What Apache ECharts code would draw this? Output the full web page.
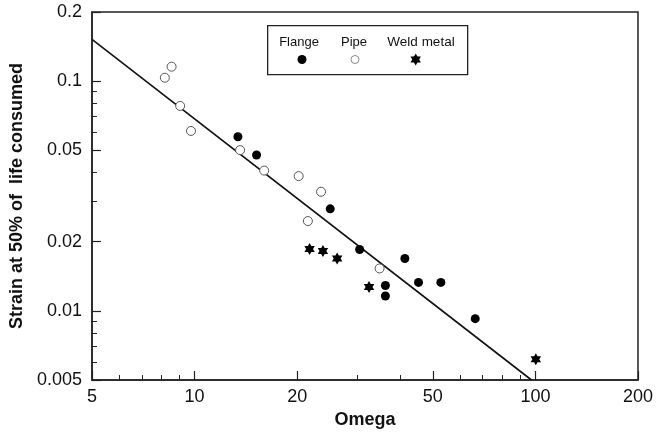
<!DOCTYPE html>
<html>
<head>
<meta charset="utf-8">
<script src="https://cdn.jsdelivr.net/npm/echarts@6/dist/echarts.min.js"></script>
<style>
html,body{margin:0;padding:0;background:#fff;}
#chart{width:656px;height:434px;}
</style>
</head>
<body>
<div id="chart"></div>
<script>
// ---- data ----
const flangeOmega = [13.4, 15.2, 25.0, 30.5, 41.4, 36.3, 36.3, 45.4, 52.8, 66.6];
const flangeStrain = [0.0573, 0.0477, 0.0278, 0.0185, 0.0169, 0.0129, 0.0116, 0.0133, 0.0133, 0.00925];
const pipeOmega = [8.18, 8.56, 9.07, 9.76, 13.6, 16.0, 20.2, 23.5, 21.5, 34.9];
const pipeStrain = [0.1035, 0.1156, 0.078, 0.0607, 0.0501, 0.0408, 0.0386, 0.033, 0.0246, 0.0153];
const weldOmega = [21.75, 23.8, 26.2, 32.5, 100.3];
const weldStrain = [0.0186, 0.0182, 0.0169, 0.0127, 0.00615];
const fitOmega = [5, 97.4];
const fitStrain = [0.152, 0.005];

const xMajorTicks = [5, 10, 20, 50, 100, 200];
const xMinorTicks = [6, 7, 8, 9, 30, 40, 60, 70, 80, 90];
const yMajorTicks = [0.005, 0.01, 0.02, 0.05, 0.1, 0.2];
const yMinorTicks = [0.006, 0.007, 0.008, 0.009, 0.03, 0.04, 0.06, 0.07, 0.08, 0.09];

const legendNames = ['Flange', 'Pipe', 'Weld metal'];

const zip = (a, b) => a.map((v, i) => [v, b[i]]);
const FONT = 'Liberation Sans, Arial, sans-serif';
const starPath = 'path://M0,-10 L8.66,5 L-8.66,5 Z M0,10 L-8.66,-5 L8.66,-5 Z';

const chart = echarts.init(document.getElementById('chart'), null, {renderer: 'canvas'});

const baseX = {
  type: 'log', logBase: 10, min: 5, max: 200, gridIndex: 0,
  splitLine: {show: false}, minorTick: {show: false}, minorSplitLine: {show: false}
};
const baseY = {
  type: 'log', logBase: 10, min: 0.005, max: 0.2, gridIndex: 0,
  splitLine: {show: false}, minorTick: {show: false}, minorSplitLine: {show: false}
};

const option = {
  backgroundColor: '#fff',
  animation: false,
  grid: {left: 91, top: 12, width: 550, height: 368, show: true,
         borderColor: '#222', borderWidth: 1.5, backgroundColor: 'transparent'},
  xAxis: [
    Object.assign({}, baseX, {
      position: 'bottom',
      name: 'Omega', nameLocation: 'middle', nameGap: 28,
      nameTextStyle: {fontFamily: FONT, fontSize: 18, fontWeight: 'bold', color: '#111'},
      axisLine: {show: true, lineStyle: {color: '#222', width: 1.5}},
      axisTick: {show: true, inside: true, length: 9, customValues: xMajorTicks, lineStyle: {color: '#222', width: 1.2}},
      axisLabel: {show: true, customValues: xMajorTicks, margin: 8, fontFamily: FONT, fontSize: 18, color: '#111',
                  formatter: v => String(+v.toPrecision(6))}
    }),
    Object.assign({}, baseX, {
      position: 'bottom',
      axisLine: {show: false},
      axisTick: {show: true, inside: true, length: 5, customValues: xMinorTicks, lineStyle: {color: '#222', width: 1}},
      axisLabel: {show: false}
    })
  ],
  yAxis: [
    Object.assign({}, baseY, {
      position: 'left',
      name: 'Strain at 50% of  life consumed', nameLocation: 'middle', nameGap: 66,
      nameTextStyle: {fontFamily: FONT, fontSize: 18, fontWeight: 'bold', color: '#111'},
      axisLine: {show: true, lineStyle: {color: '#222', width: 1.5}},
      axisTick: {show: true, inside: true, length: 9, customValues: yMajorTicks, lineStyle: {color: '#222', width: 1.2}},
      axisLabel: {show: true, customValues: yMajorTicks, margin: 10, fontFamily: FONT, fontSize: 18, color: '#111',
                  formatter: v => String(+v.toPrecision(6))}
    }),
    Object.assign({}, baseY, {
      position: 'left',
      axisLine: {show: false},
      axisTick: {show: true, inside: true, length: 5, customValues: yMinorTicks, lineStyle: {color: '#222', width: 1}},
      axisLabel: {show: false}
    })
  ],
  series: [
    {
      name: 'fit', type: 'line', xAxisIndex: 0, yAxisIndex: 0,
      data: zip(fitOmega, fitStrain), showSymbol: false, symbol: 'none',
      lineStyle: {color: '#111', width: 1.6}, z: 2, silent: true
    },
    {
      name: legendNames[0], type: 'scatter', xAxisIndex: 0, yAxisIndex: 0,
      data: zip(flangeOmega, flangeStrain), symbol: 'circle', symbolSize: 9,
      itemStyle: {color: '#000', opacity: 1}, z: 3
    },
    {
      name: legendNames[1], type: 'scatter', xAxisIndex: 0, yAxisIndex: 0,
      data: zip(pipeOmega, pipeStrain), symbol: 'circle', symbolSize: 9,
      itemStyle: {color: '#fff', borderColor: '#555', borderWidth: 1, opacity: 1}, z: 3
    },
    {
      name: legendNames[2], type: 'scatter', xAxisIndex: 0, yAxisIndex: 0,
      data: zip(weldOmega, weldStrain), symbol: starPath, symbolSize: 12, symbolKeepAspect: true,
      itemStyle: {color: '#000', opacity: 1}, z: 3
    }
  ],
  graphic: [
    {type: 'rect', left: 267, top: 25, shape: {width: 200, height: 49},
     style: {fill: '#fff', stroke: '#222', lineWidth: 1.3}, z: 10},
    {type: 'text', x: 299, y: 42, style: {text: legendNames[0], font: '13px ' + FONT, fill: '#111', textAlign: 'center', textVerticalAlign: 'middle'}, z: 11},
    {type: 'text', x: 354, y: 42, style: {text: legendNames[1], font: '13px ' + FONT, fill: '#111', textAlign: 'center', textVerticalAlign: 'middle'}, z: 11},
    {type: 'text', x: 421, y: 42, style: {text: legendNames[2], font: '13.5px ' + FONT, fill: '#111', textAlign: 'center', textVerticalAlign: 'middle'}, z: 11},
    {type: 'circle', shape: {cx: 302, cy: 59.5, r: 4.5}, style: {fill: '#000'}, z: 11},
    {type: 'circle', shape: {cx: 355, cy: 59.5, r: 4}, style: {fill: '#fff', stroke: '#888', lineWidth: 1}, z: 11},
    {type: 'polygon', shape: {points: [[415.7,53.5],[420.9,62.5],[410.5,62.5]]}, style: {fill: '#000'}, z: 11},
    {type: 'polygon', shape: {points: [[415.7,65.5],[410.5,56.5],[420.9,56.5]]}, style: {fill: '#000'}, z: 11}
  ]
};
chart.setOption(option);
</script>
</body>
</html>
